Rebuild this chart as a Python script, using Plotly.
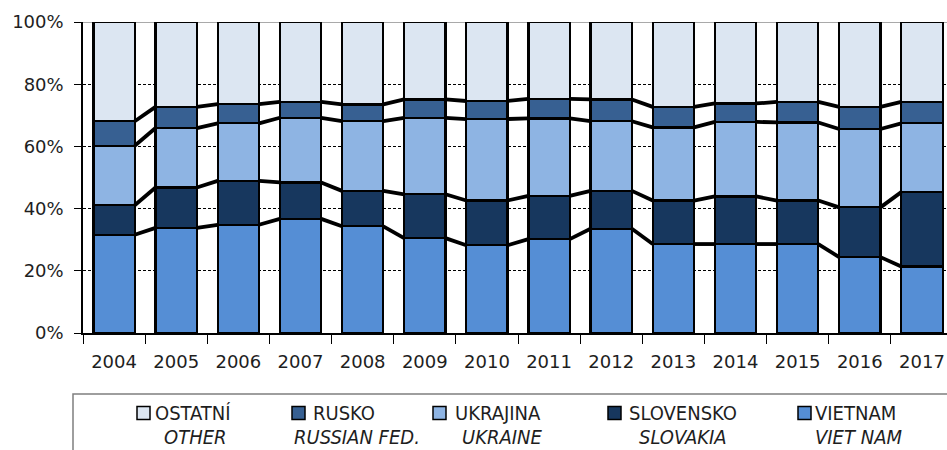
import plotly.graph_objects as go

# ---------------- data ----------------
years = ["2004", "2005", "2006", "2007", "2008", "2009", "2010",
         "2011", "2012", "2013", "2014", "2015", "2016", "2017"]

vietnam   = [31.6, 33.8, 34.8, 36.7, 34.3, 30.5, 28.2, 30.2, 33.5, 28.6, 28.6, 28.6, 24.4, 21.4]
slovensko = [9.5, 13.0, 14.1, 11.7, 11.4, 14.1, 14.4, 13.9, 12.2, 14.0, 15.3, 14.0, 16.0, 23.9]
ukrajina  = [19.1, 19.1, 18.5, 20.8, 22.4, 24.6, 26.2, 24.9, 22.4, 23.5, 24.0, 25.1, 25.2, 22.1]
rusko     = [7.9, 6.8, 6.2, 5.1, 5.4, 5.9, 5.8, 6.3, 7.0, 6.6, 5.9, 6.6, 7.1, 6.9]
ostatni   = [31.9, 27.3, 26.4, 25.7, 26.5, 24.9, 25.4, 24.7, 24.9, 27.3, 26.2, 25.7, 27.3, 25.7]

series_cz = ["VIETNAM", "SLOVENSKO", "UKRAJINA", "RUSKO", "OSTATNÍ"]
series_en = ["VIET NAM", "SLOVAKIA", "UKRAINE", "RUSSIAN FED.", "OTHER"]
series_vals = [vietnam, slovensko, ukrajina, rusko, ostatni]

y_ticks = [0, 20, 40, 60, 80, 100]
y_labels = ["0%", "20%", "40%", "60%", "80%", "100%"]

# ---------------- style ----------------
colors = ["#558ED5", "#17375E", "#8EB4E3", "#376092", "#DCE6F2"]
BAR_W = 0.665
W_PX, H_PX = 947, 450
ML, MR, MT, MB = 83, 0, 22, 117
TXT = "#1e1e1e"
TICK_FONT = dict(family="DejaVu Sans, Verdana, sans-serif", size=18, color=TXT)
LEG_FONT = dict(family="DejaVu Sans Condensed, Liberation Sans Narrow, Arial Narrow, sans-serif",
                size=20, color=TXT)

x_idx = list(range(len(years)))
fig = go.Figure()

for name, vals, col in zip(series_cz, series_vals, colors):
    fig.add_trace(go.Bar(
        x=x_idx, y=vals, width=BAR_W, name=name,
        marker=dict(color=col, line=dict(color="black", width=2.2)),
        showlegend=False,
    ))

# series lines (connect stack boundaries between adjacent bars)
cum = [0.0] * len(years)
for vals in series_vals[:-1]:
    cum = [c + v for c, v in zip(cum, vals)]
    xs, ys = [], []
    for i in range(len(years) - 1):
        xs += [x_idx[i] + BAR_W / 2, x_idx[i + 1] - BAR_W / 2, None]
        ys += [cum[i], cum[i + 1], None]
    fig.add_trace(go.Scatter(x=xs, y=ys, mode="lines",
                             line=dict(color="black", width=3.8),
                             showlegend=False, hoverinfo="skip"))

plot_w = W_PX - ML - MR
plot_h = H_PX - MT - MB
x_right = len(years) - 0.5 - 6 / 62.1


def px_x(p):
    return (p - ML) / plot_w


def px_y(p):
    return (H_PX - MB - p) / plot_h


# top (100 %) line in gray
fig.add_shape(type="line", xref="paper", yref="y", x0=0, x1=1, y0=100, y1=100,
              line=dict(color="#8c8c8c", width=1.5), layer="between")

# ---------------- legend (manual, bottom box) ----------------
fig.add_shape(type="rect", xref="paper", yref="paper",
              x0=px_x(73), x1=px_x(980), y0=px_y(394), y1=px_y(480),
              line=dict(color="#7f7f7f", width=1.5), fillcolor="rgba(0,0,0,0)")

leg_order = [4, 3, 2, 1, 0]
marker_left = [137, 292, 433, 608, 798]
cz_left = [153, 311, 453, 627, 813]
en_left = [162, 292, 460, 637, 813]
ROW1, ROW2, MS = 413, 437, 13
for k, si in enumerate(leg_order):
    fig.add_shape(type="rect", xref="paper", yref="paper",
                  x0=px_x(marker_left[k]), x1=px_x(marker_left[k] + MS),
                  y0=px_y(ROW1 - MS / 2), y1=px_y(ROW1 + MS / 2),
                  fillcolor=colors[si], line=dict(color="black", width=1.5))
    fig.add_annotation(xref="paper", yref="paper", x=px_x(cz_left[k]), y=px_y(ROW1),
                       text=series_cz[si], showarrow=False, xanchor="left",
                       yanchor="middle", font=LEG_FONT)
    fig.add_annotation(xref="paper", yref="paper", x=px_x(en_left[k]), y=px_y(ROW2),
                       text="<i>" + series_en[si] + "</i>", showarrow=False,
                       xanchor="left", yanchor="middle", font=LEG_FONT)

fig.update_layout(
    barmode="stack",
    width=W_PX, height=H_PX,
    margin=dict(l=ML, r=MR, t=MT, b=MB),
    paper_bgcolor="white", plot_bgcolor="white",
    showlegend=False,
    xaxis=dict(
        range=[-0.5, x_right], tickmode="array", tickvals=x_idx, ticktext=years,
        ticks="", showgrid=False, zeroline=False,
        showline=True, linecolor="black", linewidth=1.5,
        tickfont=TICK_FONT, ticklabelstandoff=12,
        minor=dict(tickmode="array", tickvals=[i - 0.5 for i in x_idx],
                   ticks="outside", ticklen=9, tickcolor="black", tickwidth=1,
                   showgrid=False),
    ),
    yaxis=dict(
        range=[0, 100], tickmode="array", tickvals=y_ticks, ticktext=y_labels,
        ticks="outside", ticklen=7, tickcolor="black", tickwidth=1,
        showline=True, linecolor="black", linewidth=1.5,
        showgrid=True, gridcolor="black", gridwidth=1, griddash="3px,2px",
        zeroline=False, tickfont=TICK_FONT, ticklabelstandoff=7,
    ),
)

fig.write_html("out.html",
               config={"displayModeBar": False},
               post_script="document.body.style.margin='0';"
                           "document.body.style.overflow='hidden';")
